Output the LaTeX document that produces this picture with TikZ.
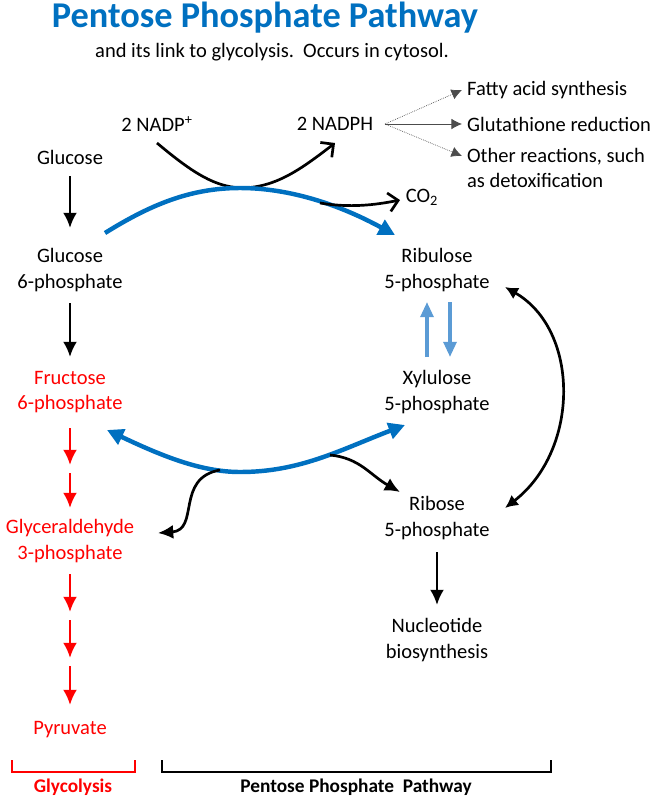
\documentclass[tikz,border=0pt]{standalone}
\usepackage{fontspec}
\setmainfont{Carlito}
\usepackage{tikz}
\usetikzlibrary{arrows.meta}
\definecolor{ppblue}{RGB}{0,112,192}
\definecolor{ppsky}{RGB}{91,155,213}
\begin{document}
\begin{tikzpicture}[x=0.03cm,y=-0.03cm,
	lbl/.style={font=\fontsize{17.5}{21.5}\selectfont, align=center},
	rlbl/.style={lbl, text=red},
	side/.style={font=\fontsize{17.5}{21.5}\selectfont, align=left, anchor=west},
	fwd/.style={-{Latex[length=13pt,width=12pt]}, line width=2.3pt},
	rfwd/.style={fwd, red},
	open/.style={-{Straight Barb[length=8pt,width=16pt]}, line width=2.3pt},
	bluearr/.style={line width=3.8pt, ppblue},
	thin/.style={-{Latex[length=9pt,width=9pt]}, line width=0.6pt, gray!60!black}]
	\useasboundingbox (0,0) rectangle (658,800);

	\node[font=\fontsize{31}{36}\selectfont\bfseries, text=ppblue] (title) at (265,18) {Pentose Phosphate Pathway};
	\node[lbl] (sub) at (272,52) {and its link to glycolysis.\ \ Occurs in cytosol.};

	% glycolysis side
	\node[lbl] (glc) at (70,157) {Glucose};
	\node[lbl] (g6p) at (70,270) {Glucose\\6-phosphate};
	\node[rlbl] (f6p) at (70,392) {Fructose\\6-phosphate};
	\node[rlbl] (gap) at (70,541) {Glyceraldehyde\\3-phosphate};
	\node[rlbl] (pyr) at (70,730) {Pyruvate};

	% pentose side
	\node[lbl] (ru5p) at (437,270) {Ribulose\\5-phosphate};
	\node[lbl] (xu5p) at (437,392) {Xylulose\\5-phosphate};
	\node[lbl] (r5p) at (437,518) {Ribose\\5-phosphate};
	\node[lbl] (nuc) at (437,640) {Nucleotide\\biosynthesis};

	\node[lbl] (nadp) at (157,124) {2 NADP\textsuperscript{+}};
	\node[lbl] (nadph) at (335,124) {2 NADPH};
	\node[lbl] (co2) at (422,197) {CO\textsubscript{2}};
	\node[side] (fas) at (463,90) {Fatty acid synthesis};
	\node[side] (gsh) at (463,124) {Glutathione reduction};
	\node[side] (oth) at (463,168) {Other reactions, such\\as detoxification};

	\coordinate (hub) at (385,124);
	\coordinate (peak) at (240,188);
	\coordinate (dip) at (240,472);

	\draw[fwd] (70,176) -- (70,228);
	\draw[fwd] (70,303) -- (70,357);
	\draw[rfwd] (70,428) -- (70,465);
	\draw[rfwd] (70,473) -- (70,508);
	\draw[rfwd] (70,574) -- (70,612);
	\draw[rfwd] (70,620) -- (70,658);
	\draw[rfwd] (70,666) -- (70,705);
	\draw[fwd] (437,552) -- (437,605);

	\draw[thin, densely dotted] (hub) -- (462,90);
	\draw[thin] (hub) -- (462,124);
	\draw[thin, densely dotted] (hub) -- (462,156);

	\draw[open] (157,143) .. controls (195,175) and (215,186) .. (peak) .. controls (275,188) and (300,170) .. (335,143);
	\draw[bluearr, -{Triangle[length=14pt,width=14pt]}] (105,233) .. controls (150,205) and (190,188) .. (peak) .. controls (290,188) and (340,205) .. (395,235);
	\draw[open] (320,203) .. controls (350,208) and (375,205) .. (400,200);

	\draw[-{Triangle[length=13pt,width=11pt]}, line width=3pt, ppsky] (427,357) -- (427,302);
	\draw[-{Triangle[length=13pt,width=11pt]}, line width=3pt, ppsky] (450,302) -- (450,357);

	\draw[{Latex[length=11pt,width=11pt]}-{Latex[length=11pt,width=11pt]}, line width=2.3pt] (505,287) .. controls (580,330) and (580,450) .. (505,508);

	\draw[bluearr, {Triangle[length=14pt,width=14pt]}-{Triangle[length=14pt,width=14pt]}] (107,430) .. controls (160,455) and (200,472) .. (dip) .. controls (300,472) and (340,450) .. (405,425);
	\draw[fwd] (220,470) .. controls (175,478) and (200,530) .. (158,533);
	\draw[fwd] (330,455) .. controls (360,458) and (370,475) .. (400,492);

	% brackets
	\draw[red, line width=2pt] (12,760) -- (12,772) -- (135,772) -- (135,760);
	\node[font=\fontsize{16.5}{20}\selectfont\bfseries, text=red] (glyc) at (73,787) {Glycolysis};
	\draw[line width=2pt] (162,760) -- (162,772) -- (551,772) -- (551,760);
	\node[font=\fontsize{16.5}{20}\selectfont\bfseries] (ppp) at (356,787) {Pentose Phosphate\ \ Pathway};
\end{tikzpicture}
\end{document}
